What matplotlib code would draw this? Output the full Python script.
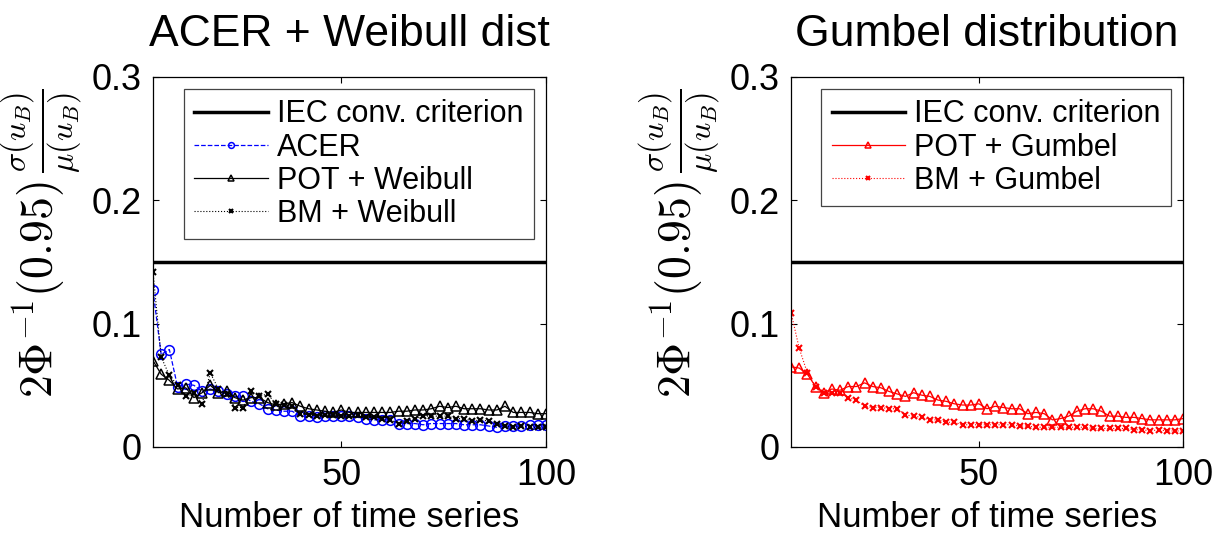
import matplotlib.pyplot as plt

plt.rcParams['font.family'] = ['Liberation Sans', 'DejaVu Sans']
plt.rcParams['mathtext.fontset'] = 'cm'

# number of time series
n_series = list(range(4, 101, 2))

iec_criterion = 0.15

acer = [0.127, 0.075, 0.079, 0.049, 0.051, 0.050, 0.045, 0.047, 0.045, 0.043,
        0.041, 0.041, 0.037, 0.035, 0.031, 0.030, 0.029, 0.029, 0.025, 0.025,
        0.024, 0.025, 0.025, 0.025, 0.025, 0.024, 0.023, 0.022, 0.022, 0.022,
        0.019, 0.019, 0.019, 0.018, 0.019, 0.019, 0.019, 0.019, 0.018, 0.018,
        0.018, 0.017, 0.016, 0.017, 0.017, 0.017, 0.018, 0.018, 0.018]

pot_weibull = [0.070, 0.059, 0.054, 0.047, 0.048, 0.040, 0.044, 0.050, 0.044, 0.045,
               0.040, 0.038, 0.040, 0.040, 0.036, 0.034, 0.035, 0.036, 0.033, 0.031,
               0.030, 0.029, 0.028, 0.030, 0.028, 0.028, 0.028, 0.028, 0.028, 0.028,
               0.029, 0.029, 0.030, 0.030, 0.031, 0.033, 0.032, 0.033, 0.031, 0.031,
               0.031, 0.030, 0.030, 0.033, 0.028, 0.028, 0.028, 0.027, 0.027]

bm_weibull = [0.142, 0.073, 0.058, 0.050, 0.041, 0.044, 0.035, 0.060, 0.047, 0.043,
              0.032, 0.032, 0.045, 0.041, 0.043, 0.035, 0.034, 0.033, 0.027, 0.026,
              0.025, 0.026, 0.026, 0.025, 0.025, 0.026, 0.024, 0.024, 0.023, 0.022,
              0.019, 0.021, 0.023, 0.025, 0.025, 0.025, 0.025, 0.023, 0.023, 0.021,
              0.022, 0.021, 0.019, 0.017, 0.016, 0.017, 0.016, 0.016, 0.016]

pot_gumbel = [0.065, 0.064, 0.059, 0.049, 0.044, 0.047, 0.046, 0.049, 0.049, 0.052,
              0.049, 0.048, 0.045, 0.043, 0.041, 0.044, 0.042, 0.041, 0.038, 0.037,
              0.035, 0.034, 0.034, 0.035, 0.031, 0.033, 0.032, 0.031, 0.031, 0.027,
              0.028, 0.027, 0.022, 0.023, 0.025, 0.029, 0.031, 0.031, 0.029, 0.025,
              0.025, 0.024, 0.024, 0.023, 0.022, 0.022, 0.022, 0.022, 0.023]

bm_gumbel = [0.109, 0.080, 0.060, 0.049, 0.044, 0.044, 0.044, 0.040, 0.038, 0.033,
             0.032, 0.032, 0.031, 0.031, 0.026, 0.025, 0.024, 0.022, 0.022, 0.020,
             0.020, 0.018, 0.018, 0.018, 0.018, 0.018, 0.018, 0.018, 0.017, 0.017,
             0.016, 0.016, 0.016, 0.016, 0.016, 0.016, 0.016, 0.015, 0.015, 0.015,
             0.015, 0.015, 0.014, 0.014, 0.013, 0.014, 0.013, 0.013, 0.013]

ylab = r'$2\Phi^{-1}(0.95)\,\frac{\sigma(u_B)}{\mu(u_B)}$'

fig = plt.figure(figsize=(12.2, 5.33), dpi=100)
ax1 = fig.add_axes([0.1254, 0.1614, 0.3221, 0.6942])
ax2 = fig.add_axes([0.6484, 0.1614, 0.3213, 0.6942])

ax1.axhline(iec_criterion, color='k', lw=2.5, label='IEC conv. criterion')
ax1.plot(n_series, acer, '--o', color='b', lw=0.9, ms=7, mfc='none', mew=1.1, label='ACER')
ax1.plot(n_series, pot_weibull, '-^', color='k', lw=0.9, ms=7, mfc='none', mew=1.1, label='POT + Weibull')
ax1.plot(n_series, bm_weibull, ':x', color='k', lw=0.8, ms=5, mew=1.5, label='BM + Weibull')

ax2.axhline(iec_criterion, color='k', lw=2.5, label='IEC conv. criterion')
ax2.plot(n_series, pot_gumbel, '-^', color='r', lw=0.9, ms=7, mfc='none', mew=1.1, label='POT + Gumbel')
ax2.plot(n_series, bm_gumbel, ':x', color='r', lw=0.8, ms=5, mew=1.5, label='BM + Gumbel')

titles = ['ACER + Weibull dist', 'Gumbel distribution']
for ax, t in zip([ax1, ax2], titles):
    ax.set_xlim(4, 100)
    ax.set_ylim(0, 0.3)
    ax.set_xticks([50, 100])
    ax.set_yticks([0, 0.1, 0.2, 0.3])
    ax.set_yticklabels(['0', '0.1', '0.2', '0.3'])
    ax.tick_params(direction='in', top=True, right=True, labelsize=26, length=4, pad=8)
    ax.set_title(t, fontsize=32, pad=22)
    ax.set_xlabel('Number of time series', fontsize=25, labelpad=6)
    ax.set_ylabel(ylab, fontsize=33)
    ax.yaxis.set_label_coords(-0.17, 0.55)
    for s in ax.spines.values():
        s.set_linewidth(0.9)
    leg = ax.legend(loc='upper right', bbox_to_anchor=(0.97, 0.968), borderaxespad=0,
                    fontsize=22, fancybox=False, edgecolor='#444444', framealpha=1,
                    handlelength=2.4, handletextpad=0.3, labelspacing=0.1,
                    numpoints=1, markerscale=0.6, borderpad=0.35)
    leg.get_frame().set_linewidth(0.9)

plt.savefig('out.png', dpi=100)
